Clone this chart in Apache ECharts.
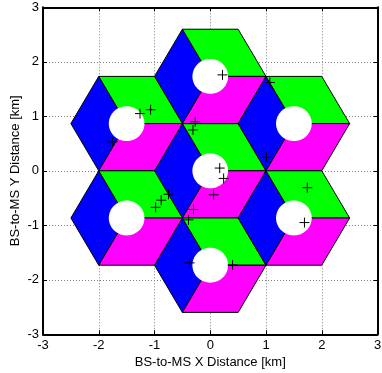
<!DOCTYPE html>
<html><head><meta charset="utf-8">
<script src="https://cdn.jsdelivr.net/npm/echarts@6/dist/echarts.min.js"></script>
<style>html,body{margin:0;padding:0;background:#fff}#c{width:382px;height:373px}</style>
</head><body><div id="c"></div>
<script>
// Cell (base-station) centres, km
var cellX = [0, 0, 0, 1.5, 1.5, -1.5, -1.5];
var cellY = [0, 1.732, -1.732, 0.866, -0.866, 0.866, -0.866];
var hexRadius = 1;          // km, centre to vertex
var holeRadius = 0.32;      // km, white exclusion circle
// Sector colours (left, upper-right, lower-right)
var sectorColors = ['#0000ff', '#00ff00', '#ff00ff'];
// Sector vertex angles (deg) : each rhombus = centre + three hex vertices
var sectorAngles = [[120, 180, 240], [120, 60, 0], [0, 300, 240]];
// Mobile stations, km
var msX = [0.22, 1.07, -0.27, -0.31, 1.01, -1.26, -1.07, -1.75, 0.17, 0.24, 0.06, -0.75, -0.88, -0.98, -0.30, -0.39, -0.37, 1.74, 1.69, 0.40];
var msY = [1.76, 1.62, 0.90, 0.75, 0.25, 1.05, 1.12, 0.53, 0.05, -0.14, -0.44, -0.43, -0.54, -0.67, -0.71, -0.90, -1.69, -0.31, -0.95, -1.73];
var ticks = [-3, -2, -1, 0, 1, 2, 3];

var sectorData = [];
for (var i = 0; i < cellX.length; i++) {
  for (var s = 0; s < 3; s++) sectorData.push([cellX[i], cellY[i], s]);
}
var holeData = cellX.map(function (x, i) { return [x, cellY[i]]; });
var msData = msX.map(function (x, i) { return [x, msY[i]]; });

var FONT = 'Liberation Sans, Arial, sans-serif';
var chart = echarts.init(document.getElementById('c'), null, {renderer: 'canvas'});
function mkAxis(pos, showLabel, name, gap) {
  return {
    type: 'value', position: pos, min: ticks[0], max: ticks[ticks.length - 1], interval: 1,
    name: name || '', nameLocation: 'middle', nameGap: gap || 0, nameMoveOverlap: false,
    nameTextStyle: {fontFamily: FONT, fontSize: 13, color: '#000'},
    axisLine: {show: true, onZero: false, lineStyle: {color: '#000', width: 2}},
    axisTick: {show: true, inside: true, length: 4, lineStyle: {color: '#000', width: 1}},
    axisLabel: {show: showLabel, fontFamily: FONT, fontSize: 13, color: '#000', margin: 5},
    splitLine: {show: showLabel, lineStyle: {color: '#808080', width: 1, type: [1, 2]}}
  };
}
var xA = [mkAxis('bottom', true, 'BS-to-MS X Distance [km]', 22), mkAxis('top', false)];
var yA = [mkAxis('left', true, 'BS-to-MS Y Distance [km]', 21), mkAxis('right', false)];
xA[0].axisLabel.margin = 5;
yA[0].axisLabel.margin = 4;

chart.setOption({
  animation: false,
  grid: {left: 43, right: 4.5, top: 7.3, bottom: 38.7, containLabel: false, outerBoundsMode: 'none'},
  xAxis: xA, yAxis: yA,
  series: [
    {
      type: 'custom', data: sectorData, z: 2,
      renderItem: function (params, api) {
        var cx = api.value(0), cy = api.value(1), s = api.value(2);
        var pts = [api.coord([cx, cy])];
        sectorAngles[s].forEach(function (a) {
          var r = a * Math.PI / 180;
          pts.push(api.coord([cx + hexRadius * Math.cos(r), cy + hexRadius * Math.sin(r)]));
        });
        return {type: 'polygon', shape: {points: pts},
          style: {fill: sectorColors[s], stroke: '#000', lineWidth: 1}};
      }
    },
    {
      type: 'custom', data: holeData, z: 3,
      renderItem: function (params, api) {
        var cx = api.value(0), cy = api.value(1), pts = [];
        for (var k = 0; k < 72; k++) {
          var t = k / 72 * 2 * Math.PI;
          pts.push(api.coord([cx + holeRadius * Math.cos(t), cy + holeRadius * Math.sin(t)]));
        }
        return {type: 'polygon', shape: {points: pts}, style: {fill: '#fff', stroke: null}};
      }
    },
    {
      type: 'custom', data: msData, z: 4,
      renderItem: function (params, api) {
        var p = api.coord([api.value(0), api.value(1)]), h = 5;
        return {type: 'group', children: [
          {type: 'line', shape: {x1: p[0] - h, y1: p[1], x2: p[0] + h, y2: p[1]}, style: {stroke: '#000', lineWidth: 1}},
          {type: 'line', shape: {x1: p[0], y1: p[1] - h, x2: p[0], y2: p[1] + h}, style: {stroke: '#000', lineWidth: 1}}
        ]};
      }
    }
  ]
});
</script></body></html>
